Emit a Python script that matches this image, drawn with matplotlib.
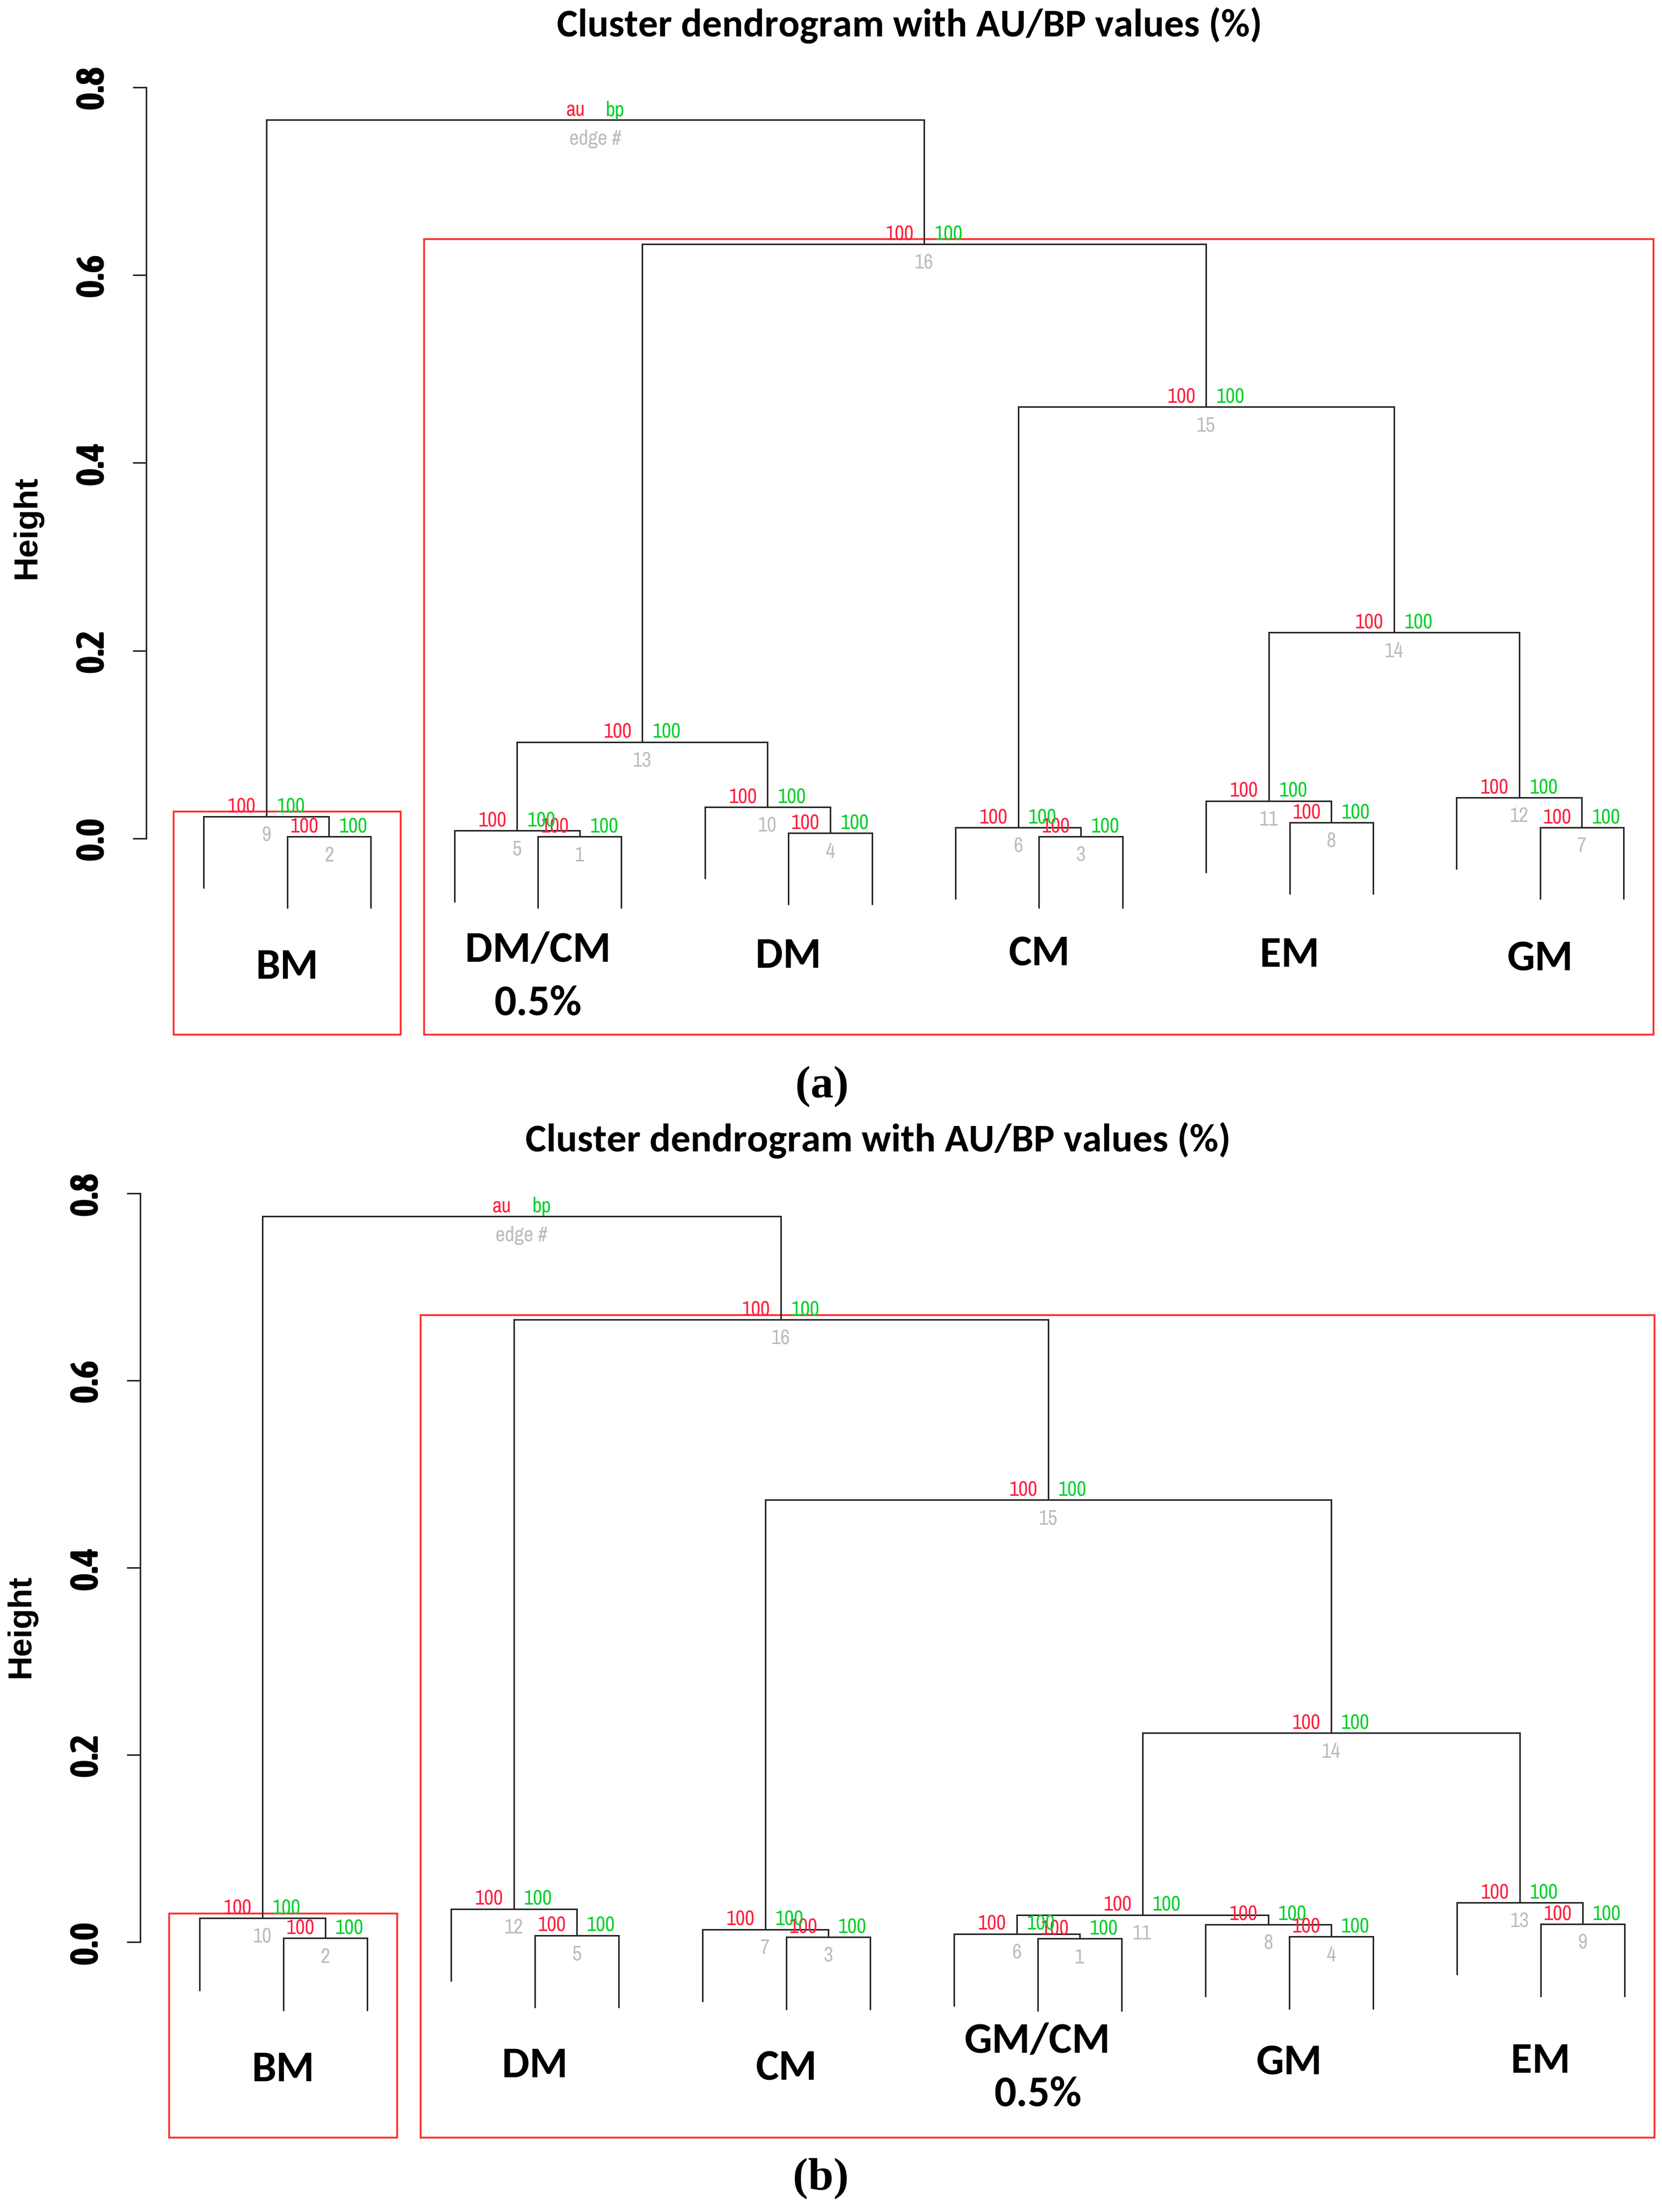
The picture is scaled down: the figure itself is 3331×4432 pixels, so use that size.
"""Two pvclust-style cluster dendrograms with AU/BP values, redrawn in matplotlib."""

import matplotlib

matplotlib.use("Agg")
import matplotlib.pyplot as plt
from matplotlib.patches import Rectangle

W, H = 3331, 4432

NARROW = ["Liberation Sans Narrow", "Archivo Narrow", "DejaVu Sans"]
NARROW_BOLD = ["Liberation Sans Narrow", "Asap Condensed", "DejaVu Sans"]
CALIBRI = ["Carlito", "Lato", "DejaVu Sans"]
ARIAL = ["Liberation Sans", "Arimo", "DejaVu Sans"]
SERIF = ["Liberation Serif", "Tinos", "DejaVu Serif"]

AU_COL = "#ff1f3d"
BP_COL = "#00d12a"
EDGE_COL = "#bdbdbd"
BOX_COL = "#ff2b2b"
LINE_COL = "#262626"

# hclust-style merge tables: negative = leaf (leaf id is its position left to right),
# positive = earlier merge (1-based). The last merge is the root.
merges_a = [(-5, -6), (-2, -3), (-11, -12), (-8, -9), (-4, 1), (-10, 3),
            (-17, -18), (-14, -15), (-1, 2), (-7, 4), (-13, 8), (-16, 7),
            (5, 10), (11, 12), (6, 14), (13, 15), (9, 16)]
heights_a = [0.0021, 0.0021, 0.0021, 0.0056, 0.0086, 0.0117, 0.0118, 0.017,
             0.0235, 0.0336, 0.040, 0.0436, 0.1027, 0.2194, 0.4598, 0.633, 0.765]
au_a = [100, 100, 100, 100, 100, 100, 100, 100, 100, 100, 100, 100, 100, 100, 100, 100]
bp_a = [100, 100, 100, 100, 100, 100, 100, 100, 100, 100, 100, 100, 100, 100, 100, 100]
boxes_a = [(1, 3, 9), (4, 18, 16)]          # first leaf, last leaf, cluster node
groups_a = [(1, 3), (4, 6), (7, 9), (10, 12), (13, 15), (16, 18)]
group_labels_a = ["BM", "DM/CM\n0.5%", "DM", "CM", "EM", "GM"]

merges_b = [(-11, -12), (-2, -3), (-8, -9), (-14, -15), (-5, -6), (-10, 1),
            (-7, 3), (-13, 4), (-17, -18), (-1, 2), (6, 8), (-4, 5),
            (-16, 9), (11, 13), (7, 14), (12, 15), (10, 16)]
heights_b = [0.0037, 0.0042, 0.0053, 0.0058, 0.0073, 0.0089, 0.0137, 0.0190,
             0.0191, 0.0256, 0.0292, 0.0356, 0.0423, 0.2236, 0.4727, 0.665, 0.7756]
au_b = [100, 100, 100, 100, 100, 100, 100, 100, 100, 100, 100, 100, 100, 100, 100, 100]
bp_b = [100, 100, 100, 100, 100, 100, 100, 100, 100, 100, 100, 100, 100, 100, 100, 100]
boxes_b = [(1, 3, 10), (4, 18, 16)]
groups_b = [(1, 3), (4, 6), (7, 9), (10, 12), (13, 15), (16, 18)]
group_labels_b = ["BM", "DM", "CM", "GM/CM\n0.5%", "GM", "EM"]

TITLE = "Cluster dendrogram with AU/BP values (%)"
YTICKS = [0.0, 0.2, 0.4, 0.6, 0.8]


def px(x, y):
    """pixel position (from top-left) -> figure fraction"""
    return x / W, 1 - y / H


def draw_panel(ax, merges, heights, au, bp, boxes, groups, labels, label_y, xlim):
    hang = 0.1 * max(heights)
    float_y = 0.0105
    xs = {}
    for i, (a, b) in enumerate(merges, start=1):
        h = heights[i - 1]
        ends = []
        for c in (a, b):
            if c < 0:
                x, y0 = -c, h - hang
            else:
                x, y0 = xs[c], heights[c - 1]
            ax.plot([x, x], [y0, h], color=LINE_COL, lw=2.2, solid_capstyle="butt")
            ends.append(x)
        ax.plot(ends, [h, h], color=LINE_COL, lw=2.2, solid_capstyle="projecting")
        xs[i] = sum(ends) / 2

    root = len(merges)
    for i in range(1, root + 1):
        x, h = xs[i], heights[i - 1]
        if i == root:
            au_txt, bp_txt, edge_txt = "au", "bp", "edge #"
        else:
            au_txt, bp_txt, edge_txt = str(au[i - 1]), str(bp[i - 1]), str(i)
        ax.annotate(au_txt, (x, h + float_y), xytext=(-15, 0), textcoords="offset points",
                    ha="right", va="center", color=AU_COL, fontsize=30, fontfamily=NARROW)
        ax.annotate(bp_txt, (x, h + float_y), xytext=(15, 0), textcoords="offset points",
                    ha="left", va="center", color=BP_COL, fontsize=30, fontfamily=NARROW)
        ax.annotate(edge_txt, (x, h), xytext=(0, -27), textcoords="offset points",
                    ha="center", va="center", color=EDGE_COL, fontsize=30, fontfamily=NARROW)

    box_bottom = -0.209
    for first, last, node in boxes:
        top = heights[node - 1] + 0.0052
        ax.add_patch(Rectangle((first - 0.36, box_bottom), last - first + 0.72, top - box_bottom,
                               fill=False, ec=BOX_COL, lw=2.6, clip_on=False, zorder=1))

    gap = 77  # points between the two lines of a label
    for (first, last), lab, y in zip(groups, labels, label_y):
        lines = lab.split("\n")
        cx = (first + last) / 2
        for k, line in enumerate(lines):
            off = ((len(lines) - 1) / 2 - k) * gap
            ax.annotate(line, (cx, y), xytext=(0, off), textcoords="offset points",
                        ha="center", va="center", fontsize=63, fontweight="bold",
                        fontfamily=CALIBRI, color="black")

    ax.set_xlim(*xlim)
    ax.set_ylim(-0.22, 0.82)
    for side in ("top", "right", "bottom"):
        ax.spines[side].set_visible(False)
    ax.spines["left"].set_bounds(0, 0.8)
    ax.spines["left"].set_linewidth(2.2)
    ax.spines["left"].set_color(LINE_COL)
    ax.set_xticks([])
    ax.set_yticks(YTICKS)
    ax.set_yticklabels([f"{t:.1f}" for t in YTICKS])
    ax.tick_params(axis="y", length=19.5, width=2.2, pad=31, labelsize=57, color=LINE_COL)
    for t in ax.get_yticklabels():
        t.set_rotation(90)
        t.set_va("center")
        t.set_family(NARROW_BOLD)
        t.set_weight("bold")
    ax.patch.set_visible(False)


fig = plt.figure(figsize=(W / 100, H / 100), dpi=100)

ax_a = fig.add_axes([0.08796, 0.52753, 0.91009, 0.44156])
draw_panel(ax_a, merges_a, heights_a, au_a, bp_a, boxes_a, groups_a, group_labels_a,
           [-0.137, -0.147, -0.125, -0.123, -0.124, -0.128], (0.3106, 18.42))

ax_b = fig.add_axes([0.08436, 0.02893, 0.91417, 0.43998])
draw_panel(ax_b, merges_b, heights_b, au_b, bp_b, boxes_b, groups_b, group_labels_b,
           [-0.136, -0.132, -0.135, -0.134, -0.129, -0.127], (0.2946, 18.42))

# titles, y labels and panel letters
fig.text(*px(1823, 51), TITLE, ha="center", va="center", fontsize=57,
         fontweight="bold", family=CALIBRI)
fig.text(*px(1760, 2285), TITLE, ha="center", va="center", fontsize=57,
         fontweight="bold", family=CALIBRI)
fig.text(*px(55, 1056), "Height", ha="center", va="center", rotation=90,
         fontsize=48, fontweight="bold", family=ARIAL)
fig.text(*px(42, 3258), "Height", ha="center", va="center", rotation=90,
         fontsize=48, fontweight="bold", family=ARIAL)
fig.text(*px(1647, 2177), "(a)", ha="center", va="center", fontsize=66,
         fontweight="bold", family=SERIF)
fig.text(*px(1645, 4365), "(b)", ha="center", va="center", fontsize=66,
         fontweight="bold", family=SERIF)

fig.savefig("out.png", dpi=100, facecolor="white")
